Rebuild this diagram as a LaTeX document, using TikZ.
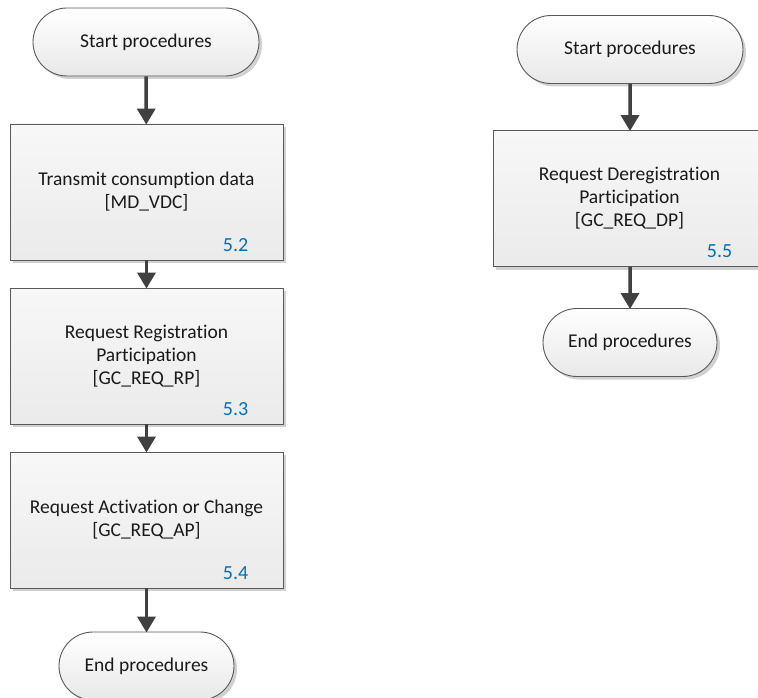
\documentclass[tikz,border=0pt]{standalone}
\usepackage{fontspec}
\setmainfont{Carlito}[Ligatures={NoCommon}]
\usetikzlibrary{shapes.misc,shadows,arrows.meta}
\definecolor{txt}{HTML}{1A1A1A}
\definecolor{edge}{HTML}{5A5A5A}
\definecolor{arr}{HTML}{404040}
\definecolor{numblue}{HTML}{0070C0}
\tikzset{
  base/.style={draw=edge, line width=0.9pt, text=txt, font=\fontsize{19.5}{23}\selectfont,
    align=center, drop shadow={shadow xshift=3pt, shadow yshift=-3pt, fill=black, opacity=0.18}},
  term/.style={base, rounded rectangle, minimum height=68pt, inner sep=0pt,
    top color=white, bottom color=black!9},
  procbox/.style={base, rectangle, minimum width=273pt, minimum height=136pt, inner sep=0pt,
    top color=black!3, bottom color=black!8},
  num/.style={text=numblue, font=\fontsize{20}{22}\selectfont, anchor=south east, inner sep=0pt},
  flow/.style={draw=arr, line width=3.5pt, -{Triangle[length=16pt,width=18pt]}, shorten >=-1pt}
}
\begin{document}
\begin{tikzpicture}[x=1pt,y=-1pt]
\clip (0,0) rectangle (758,698);
\fill[white] (0,0) rectangle (758,698);
% left column
\node[term, minimum width=226pt] (s1) at (146,42) {Start procedures};
\node[procbox] (b1) at (146.5,192) {Transmit consumption data\\{[}MD\_VDC{]}};
\node[procbox] (b2) at (146.5,356) {Request Registration\\Participation\\{[}GC\_REQ\_RP{]}};
\node[procbox] (b3) at (146.5,520) {Request Activation or Change\\{[}GC\_REQ\_AP{]}};
\node[term, minimum width=175pt] (e1) at (146.5,666) {End procedures};
\node[num] (n1) at ([xshift=-35pt,yshift=9pt]b1.south east) {5.2};
\node[num] (n2) at ([xshift=-35pt,yshift=9pt]b2.south east) {5.3};
\node[num] (n3) at ([xshift=-35pt,yshift=9pt]b3.south east) {5.4};
% right column
\node[term, minimum width=226pt] (s2) at (630,49.5) {Start procedures};
\node[procbox] (b4) at (629.5,198.5) {Request Deregistration\\Participation\\{[}GC\_REQ\_DP{]}};
\node[term, minimum width=174pt] (e2) at (630,342.5) {End procedures};
\node[num] (n4) at ([xshift=-34pt,yshift=9pt]b4.south east) {5.5};
% connectors
\draw[flow] (s1) -- (b1);
\draw[flow] (b1) -- (b2);
\draw[flow] (b2) -- (b3);
\draw[flow] (b3) -- (e1);
\draw[flow] (s2) -- (s2 |- b4.north);
\draw[flow] (b4.south -| e2.north) -- (e2);
\end{tikzpicture}
\end{document}
